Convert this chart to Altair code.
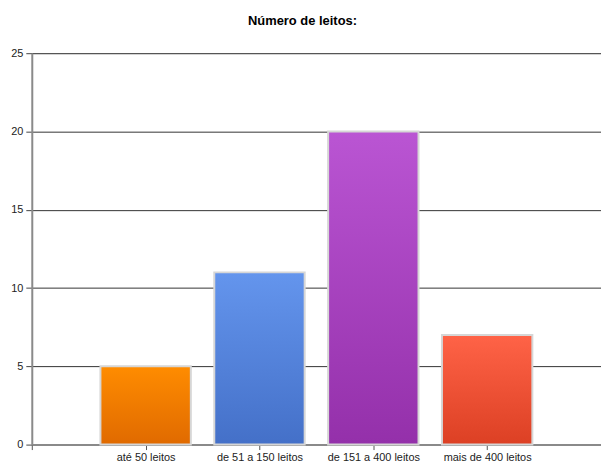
import altair as alt
import pandas as pd
import json

categories = ["até 50 leitos", "de 51 a 150 leitos", "de 151 a 400 leitos", "mais de 400 leitos"]
values = [5, 11, 20, 7]
top_colors = ["#FF8C00", "#6495ED", "#BA55D3", "#FF6347"]
bottom_colors = ["#E06A00", "#4470C8", "#9430AA", "#DC4024"]

positions = list(range(1, len(categories) + 1))
df = pd.DataFrame({"pos": positions, "cat": categories, "val": values})

label_arr = json.dumps([""] + categories)

x_enc = alt.X(
    "pos:Q",
    scale=alt.Scale(domain=[0, 5], nice=False, zero=False, padding=0),
    axis=alt.Axis(
        values=[0] + positions,
        labelExpr=f"{label_arr}[datum.value]",
        title=None,
        grid=False,
        domainColor="#8a8a8a",
        domainWidth=2,
        tickColor="#555555",
        tickSize=5,
        labelFont="Liberation Sans",
        labelFontSize=11,
        labelColor="#222222",
        labelPadding=2,
    ),
)
y_enc = alt.Y(
    "val:Q",
    scale=alt.Scale(domain=[0, 25], nice=False, padding=0),
    axis=alt.Axis(
        values=[0, 5, 10, 15, 20, 25],
        title=None,
        grid=True,
        gridColor="#333333",
        gridWidth=1,
        domainColor="#8a8a8a",
        domainWidth=2,
        tickColor="#444444",
        tickSize=6,
        labelFont="Liberation Sans",
        labelFontSize=11,
        labelColor="#222222",
        labelPadding=3,
    ),
)

layers = []
for i, c in enumerate(categories):
    grad = alt.LinearGradient(
        gradient="linear",
        stops=[
            alt.GradientStop(color=top_colors[i], offset=0),
            alt.GradientStop(color=bottom_colors[i], offset=1),
        ],
        x1=0, x2=0, y1=0, y2=1,
    )
    layers.append(
        alt.Chart(df)
        .transform_filter(alt.datum.cat == c)
        .mark_bar(fill=grad, size=91, stroke="#d6d6d6", strokeWidth=2, opacity=1)
        .encode(x=x_enc, y=y_enc)
    )

chart = (
    alt.layer(*layers)
    .properties(
        width=573,
        height=394,
        title=alt.TitleParams(
            "Número de leitos:",
            font="Liberation Sans",
            fontSize=13,
            fontWeight="bold",
            color="#000000",
            anchor="middle",
            dx=-14,
            offset=19,
        ),
        autosize=alt.AutoSizeParams(type="none"),
        padding={"left": 32, "top": 52, "right": 0, "bottom": 20},
    )
    .configure_view(stroke=None)
    .configure(background="white")
)

chart.save("out.html", embed_options={"renderer": "svg", "actions": False})
